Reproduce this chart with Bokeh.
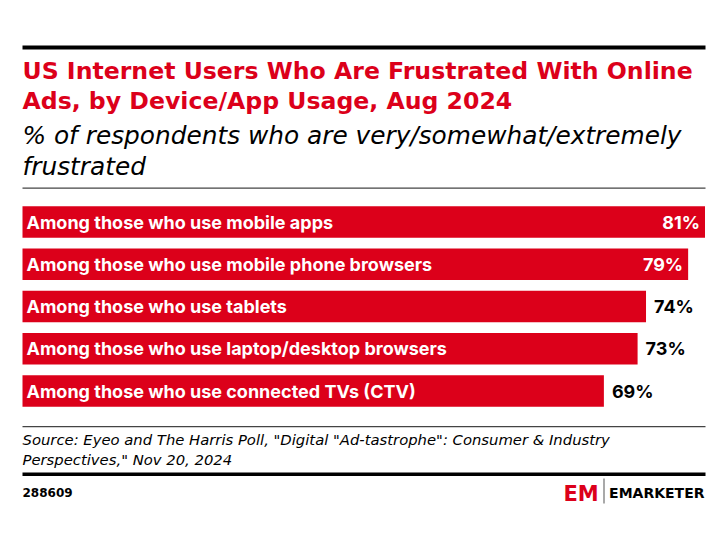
from bokeh.plotting import figure
from bokeh.models import ColumnDataSource, Range1d, Label, BoxAnnotation
from bokeh.core.properties import value
from bokeh.embed import file_html
from bokeh.resources import INLINE

# ---- data ----
categories = [
    "Among those who use mobile apps",
    "Among those who use mobile phone browsers",
    "Among those who use tablets",
    "Among those who use laptop/desktop browsers",
    "Among those who use connected TVs (CTV)",
]
values = [81, 79, 74, 73, 69]
value_labels = ["81%", "79%", "74%", "73%", "69%"]

title_lines = ["US Internet Users Who Are Frustrated With Online",
               "Ads, by Device/App Usage, Aug 2024"]
subtitle_lines = ["% of respondents who are very/somewhat/extremely",
                  "frustrated"]
source_lines = ['Source: Eyeo and The Harris Poll, "Digital "Ad-tastrophe": Consumer & Industry',
                'Perspectives," Nov 20, 2024']
chart_id = "288609"

# ---- layout (pixels) ----
W, H = 715, 528
OFF = 0  # page offset of the figure
RED = "#dc001a"
FONT = "DejaVu Sans"
BAR_FONT = "Inter"
x0_px, xmax_px = 22.0 - OFF, 704.5 - OFF      # pixel of value 0 and of max value
row0_px, row_step = 221.5 - OFF, 42.25         # first bar centre (from top) and spacing
bar_h_px = 31.5

ppu = (xmax_px - x0_px) / max(values)
x_start = -x0_px / ppu
x_end = (W - x0_px) / ppu
y_top = -row0_px / row_step
y_bottom = (H - row0_px) / row_step

p = figure(width=W, height=H, x_range=Range1d(x_start, x_end),
           y_range=Range1d(y_bottom, y_top), x_axis_type=None, y_axis_type=None,
           output_backend="svg", toolbar_location=None, min_border=0)
p.grid.visible = False
p.outline_line_color = None
p.background_fill_color = "white"
p.border_fill_color = "white"

idx = list(range(len(categories)))
src = ColumnDataSource(dict(y=idx, val=values, cat=categories, lab=value_labels))
p.hbar(y="y", left=0, right="val", height=bar_h_px / row_step, source=src,
       fill_color=RED, line_color=None)

LBL_SIZE = "18px"
p.text(x=0, y="y", text="cat", source=src, x_offset=4, text_color="white",
       text_font=value(BAR_FONT), text_font_style="bold", text_font_size=LBL_SIZE,
       text_align="left", text_baseline="middle")

threshold = 75
ins = [i for i in idx if values[i] >= threshold]
outs = [i for i in idx if values[i] < threshold]
src_in = ColumnDataSource(dict(y=[idx[i] for i in ins], val=[values[i] for i in ins],
                               lab=[value_labels[i] for i in ins]))
src_out = ColumnDataSource(dict(y=[idx[i] for i in outs], val=[values[i] for i in outs],
                                lab=[value_labels[i] for i in outs]))
p.text(x="val", y="y", text="lab", source=src_in, x_offset=-5, text_color="white",
       text_font=value(BAR_FONT), text_font_style="bold", text_font_size=LBL_SIZE,
       text_align="right", text_baseline="middle")
p.text(x="val", y="y", text="lab", source=src_out, x_offset=8, text_color="black",
       text_font=value(BAR_FONT), text_font_style="bold", text_font_size=LBL_SIZE,
       text_align="left", text_baseline="middle")


def sy(page_y):
    return H - (page_y - OFF)


def sx(page_x):
    return page_x - OFF


def rule(top_page, bottom_page, color, left=22, right=705):
    p.add_layout(BoxAnnotation(left=sx(left), right=sx(right), top=sy(top_page), bottom=sy(bottom_page),
                               left_units="screen", right_units="screen",
                               top_units="screen", bottom_units="screen",
                               fill_color=color, fill_alpha=1, line_color=None, level="overlay"))


rule(45, 49, "black")
rule(187, 188.2, "#444444")
rule(425.5, 426.7, "#444444")
rule(472, 475.5, "black")
rule(478, 503, "#555555", left=603, right=604)


def lab(text, x, page_y, size, color="black", style="normal", font=FONT, align="left"):
    p.add_layout(Label(x=sx(x), y=sy(page_y), x_units="screen", y_units="screen", text=text,
                       text_font=font, text_font_size=size, text_font_style=style,
                       text_color=color, text_align=align, text_baseline="alphabetic"))


lab(title_lines[0], 22, 70, "23.6px", RED, "bold")
lab(title_lines[1], 22, 100, "23.6px", RED, "bold")
lab(subtitle_lines[0], 22, 135, "24.8px", "black", "italic")
lab(subtitle_lines[1], 22, 166, "24.8px", "black", "italic")
lab(source_lines[0], 22, 439, "14.8px", "black", "italic")
lab(source_lines[1], 22, 459, "14.8px", "black", "italic")
lab(chart_id, 22, 492, "12px", "black", "bold")
lab("EM", 563, 493, "21px", RED, "bold")
lab("EMARKETER", 704, 492, "14px", "black", "bold", align="right")

open("out.html", "w").write(file_html(p, INLINE))
